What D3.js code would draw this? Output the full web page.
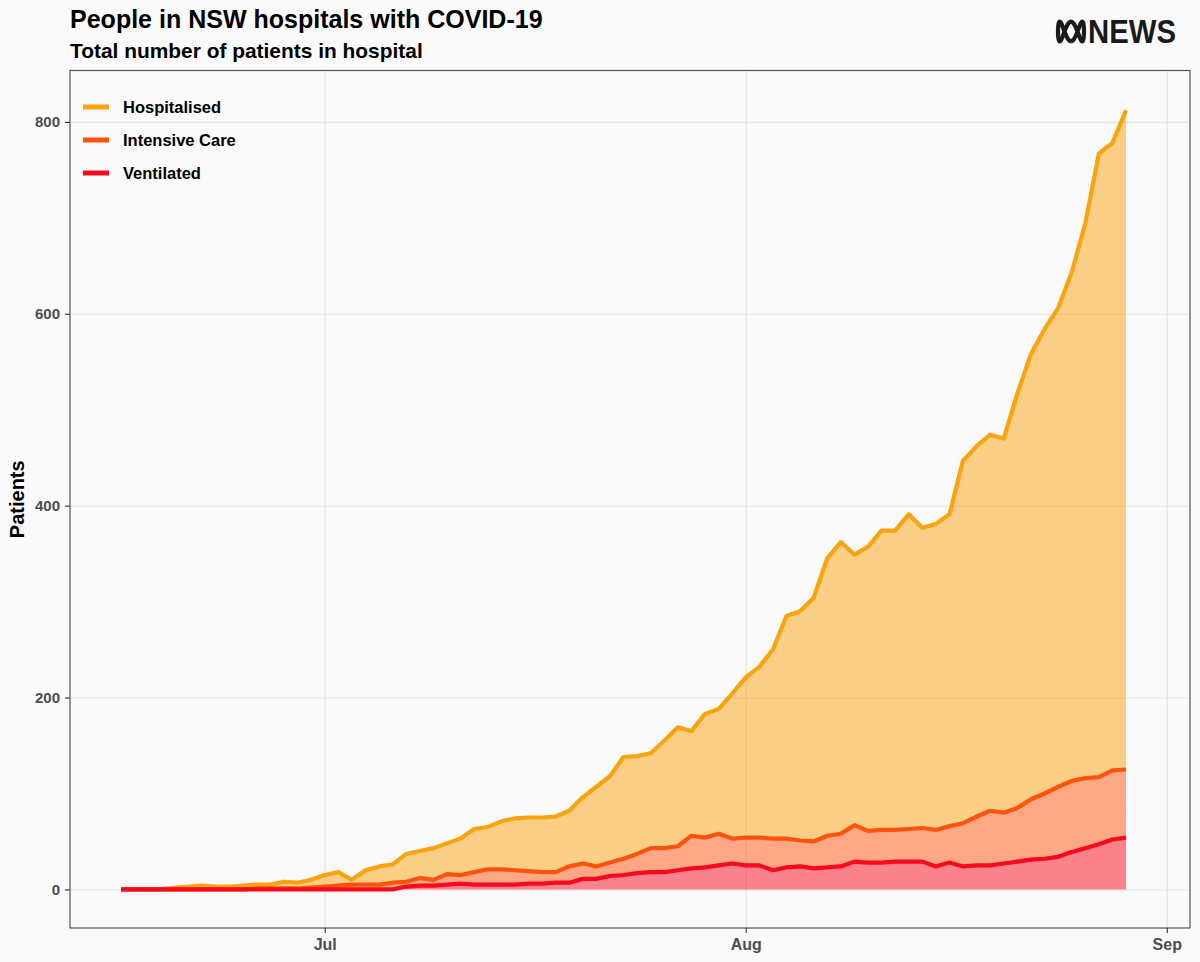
<!DOCTYPE html>
<html><head><meta charset="utf-8">
<script src="https://cdn.jsdelivr.net/npm/d3@7"></script>
<style>
html,body{margin:0;padding:0;background:#FAFAFA;}
svg{display:block;font-family:"Liberation Sans",Arial,Helvetica,sans-serif;}
</style></head><body>
<svg id="chart" width="1200" height="962"></svg>
<script>
// ---- data (daily, 16 Jun 2021 – 29 Aug 2021) ----
const firstDay = new Date(Date.UTC(2021, 5, 16));
const hospitalised = [
  0,0,0,0,2,3,4,3,3,4,5,5,8,7,10,
  15,18,10,20,24,26,37,40,43,48,53,63,65,71,74,75,75,76,82,96,107,118,138,139,142,155,169,165,183,188,204,
  221,232,250,285,290,304,345,362,349,357,374,374,391,377,381,391,447,462,474,470,517,558,584,606,643,694,767,778,812
];
const intensiveCare = [
  0,0,0,0,0,0,0,0,0,0,1,1,1,1,2,
  3,4,5,5,5,7,8,12,10,16,15,18,21,21,20,19,18,18,24,27,24,28,32,37,43,43,45,56,54,58,53,
  54,54,53,53,51,50,56,58,67,61,62,62,63,64,62,66,69,76,82,80,85,94,100,107,113,116,117,124,125
];
const ventilated = [
  0,0,0,0,0,0,0,0,0,0,0,0,0,0,0,
  0,0,0,0,0,0,3,4,4,5,6,5,5,5,5,6,6,7,7,11,11,14,15,17,18,18,20,22,23,25,27,
  25,25,20,23,24,22,23,24,29,28,28,29,29,29,24,28,24,25,25,27,29,31,32,34,39,43,47,52,54
];
const seriesNames = ["Hospitalised", "Intensive Care", "Ventilated"];
const yTickValues = [0, 200, 400, 600, 800];
const xTickDates = [new Date(Date.UTC(2021,6,1)), new Date(Date.UTC(2021,7,1)), new Date(Date.UTC(2021,8,1))];
const xTickLabels = ["Jul", "Aug", "Sep"];
const titleText = "People in NSW hospitals with COVID-19";
const subtitleText = "Total number of patients in hospital";
const yAxisTitle = "Patients";

// ---- styles ----
const colors = ["#F9A40F", "#FF530D", "#F70A1E"];
const W = 1200, H = 962;
const panel = {left: 70, right: 1190, top: 70.5, bottom: 928};

const days = hospitalised.map((_, i) => d3.utcDay.offset(firstDay, i));
const rows = days.map((d, i) => ({date: d, h: hospitalised[i], icu: intensiveCare[i], v: ventilated[i]}));

const svg = d3.select("#chart");
svg.append("rect").attr("width", W).attr("height", H).attr("fill", "#FAFAFA");

const x = d3.scaleUtc()
  .domain([new Date(Date.UTC(2021,5,12,5,54)), new Date(Date.UTC(2021,8,2,17,3))])
  .range([panel.left, panel.right]);
const y = d3.scaleLinear().domain([-40.2, 853.6]).range([panel.bottom, panel.top]);

// grid
const grid = svg.append("g");
grid.append("g").attr("transform", `translate(0,${panel.bottom})`)
  .call(d3.axisBottom(x).tickValues(xTickDates).tickSize(-(panel.bottom - panel.top)).tickFormat(""))
  .call(g => g.select(".domain").remove())
  .call(g => g.selectAll("line").attr("stroke", "#E3E3E3").attr("stroke-width", 1.1));
grid.append("g").attr("transform", `translate(${panel.left},0)`)
  .call(d3.axisLeft(y).tickValues(yTickValues).tickSize(-(panel.right - panel.left)).tickFormat(""))
  .call(g => g.select(".domain").remove())
  .call(g => g.selectAll("line").attr("stroke", "#E3E3E3").attr("stroke-width", 1.1));

// ribbons
const ribbons = [
  d3.area().x(d => x(d.date)).y0(d => y(d.icu)).y1(d => y(d.h)),
  d3.area().x(d => x(d.date)).y0(d => y(d.v)).y1(d => y(d.icu)),
  d3.area().x(d => x(d.date)).y0(() => y(0)).y1(d => y(d.v))
];
ribbons.forEach((a, i) => {
  svg.append("path").datum(rows).attr("d", a).attr("fill", colors[i]).attr("fill-opacity", 0.5);
});

// lines
const accessors = [d => d.h, d => d.icu, d => d.v];
accessors.forEach((acc, i) => {
  svg.append("path").datum(rows)
    .attr("d", d3.line().x(d => x(d.date)).y(d => y(acc(d))))
    .attr("fill", "none").attr("stroke", colors[i]).attr("stroke-width", 4.2)
    .attr("stroke-linejoin", "round").attr("stroke-linecap", "butt");
});

// panel border
svg.append("rect").attr("x", panel.left).attr("y", panel.top)
  .attr("width", panel.right - panel.left).attr("height", panel.bottom - panel.top)
  .attr("fill", "none").attr("stroke", "#555").attr("stroke-width", 1.2);

// axes
const xAxis = svg.append("g").attr("transform", `translate(0,${panel.bottom})`)
  .call(d3.axisBottom(x).tickValues(xTickDates).tickSize(5).tickPadding(6)
    .tickFormat((d, i) => xTickLabels[i]));
xAxis.select(".domain").remove();
xAxis.selectAll("line").attr("stroke", "#333").attr("stroke-width", 1.1);
xAxis.selectAll("text").attr("fill", "#4D4D4D").attr("font-size", 16).attr("font-weight", "bold")
  .attr("font-family", '"Liberation Sans", Arial, sans-serif');

const yAxis = svg.append("g").attr("transform", `translate(${panel.left},0)`)
  .call(d3.axisLeft(y).tickValues(yTickValues).tickSize(5).tickPadding(5).tickFormat(d3.format("d")));
yAxis.select(".domain").remove();
yAxis.selectAll("line").attr("stroke", "#333").attr("stroke-width", 1.1);
yAxis.selectAll("text").attr("fill", "#4D4D4D").attr("font-size", 15).attr("font-weight", "bold")
  .attr("font-family", '"Liberation Sans", Arial, sans-serif');

// y axis title
svg.append("text").attr("transform", `translate(24,${(panel.top + panel.bottom) / 2}) rotate(-90)`)
  .attr("text-anchor", "middle").attr("font-size", 20).attr("font-weight", "bold").attr("fill", "#000")
  .text(yAxisTitle);

// titles (fit to measured widths)
function fit(sel, target) {
  const len = sel.node().getComputedTextLength();
  const fs = parseFloat(sel.attr("font-size"));
  sel.attr("font-size", fs * target / len);
}
const t1 = svg.append("text").attr("x", 70).attr("y", 28).attr("font-size", 25)
  .attr("font-weight", "bold").attr("fill", "#000").text(titleText);
fit(t1, 473);
const t2 = svg.append("text").attr("x", 70).attr("y", 58).attr("font-size", 21)
  .attr("font-weight", "bold").attr("fill", "#000").text(subtitleText);
fit(t2, 353);

// legend
const legendY = [107, 140, 173];
const legend = svg.append("g");
seriesNames.forEach((name, i) => {
  legend.append("line").attr("x1", 83).attr("x2", 109).attr("y1", legendY[i]).attr("y2", legendY[i])
    .attr("stroke", colors[i]).attr("stroke-width", 5);
  legend.append("text").attr("x", 123).attr("y", legendY[i]).attr("dy", "0.36em")
    .attr("font-size", 16.5).attr("font-weight", "bold").attr("fill", "#000").text(name);
});

// ABC NEWS logo
const logo = svg.append("g").attr("transform", "translate(1071,31.5)");
const pts = d3.range(0, 2 * Math.PI + 0.01, Math.PI / 90).map(t => [13 * Math.sin(t), 9.8 * Math.cos(3 * t)]);
logo.append("path").attr("d", d3.line()(pts)).attr("fill", "none").attr("stroke", "#1a1a1a")
  .attr("stroke-width", 4.2);
svg.append("text").attr("x", 1088).attr("y", 43).attr("font-size", 33).attr("font-weight", "bold")
  .attr("fill", "#1a1a1a").attr("textLength", 88).attr("lengthAdjust", "spacingAndGlyphs").text("NEWS");
</script>
</body></html>
